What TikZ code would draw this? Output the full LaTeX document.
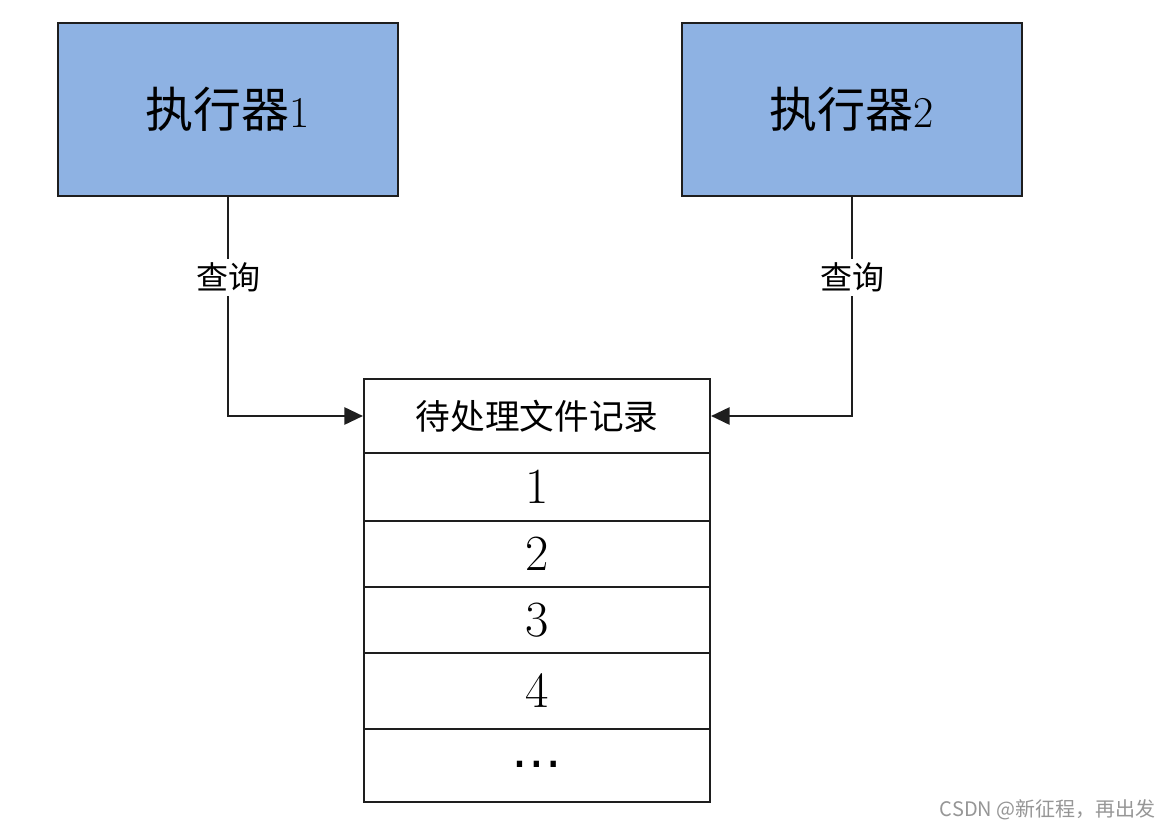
\documentclass[tikz,border=0pt]{standalone}
\usepackage{fontspec}
\newfontfamily\cjk{Noto Sans CJK SC}
\newfontfamily\dejavu{DejaVu Sans}
\usetikzlibrary{arrows.meta}
\definecolor{boxblue}{RGB}{142,178,227}
\definecolor{linegray}{RGB}{30,30,30}
\definecolor{wmgray}{RGB}{150,150,150}
\begin{document}
\begin{tikzpicture}[x=0.75pt,y=-0.75pt,
  exec/.style={draw=linegray, line width=1.6pt, fill=boxblue, minimum width=255pt, minimum height=129.75pt, inner sep=0pt},
  cell/.style={draw=linegray, line width=1.6pt, minimum width=259.5pt, inner sep=0pt, fill=white},
  link/.style={draw=linegray, line width=1.5pt, -{Triangle[length=14pt,width=13pt]}},
  lbl/.style={fill=white, inner sep=3pt, font=\cjk\fontsize{24}{28}\selectfont},
  digit/.style={font=\fontsize{38}{40}\selectfont}]
\useasboundingbox (0,0) rectangle (1171,831);
\fill[white] (0,0) rectangle (1171,831);

\node[exec] (ex1) at (228,109.5) {{\cjk\fontsize{36}{40}\selectfont 执行器}{\fontsize{33}{36}\selectfont 1}};
\node[exec] (ex2) at (852,109.5) {{\cjk\fontsize{36}{40}\selectfont 执行器}{\fontsize{33}{36}\selectfont 2}};

\node[cell, minimum height=55.5pt] (head) at (537,416) {\cjk\fontsize{26}{30}\selectfont 待处理文件记录};
\node[cell, minimum height=51pt, digit] (r1) at (537,487) {1};
\node[cell, minimum height=49.5pt, digit] (r2) at (537,554) {2};
\node[cell, minimum height=49.5pt, digit] (r3) at (537,620) {3};
\node[cell, minimum height=57pt, digit] (r4) at (537,691) {4};
\node[cell, minimum height=54.75pt] (r5) at (537,765.5) {\raisebox{1pt}{\dejavu\fontsize{38}{38}\selectfont …}};

\draw[link] (ex1.south) |- node[lbl, pos=0.184] {查询} (head.west);
\draw[link] (ex2.south) |- node[lbl, pos=0.184] {查询} (head.east);

\node[anchor=east, text=wmgray, inner sep=0pt, font=\cjk\fontsize{15}{18}\selectfont] (wm) at (1156,810) {CSDN @新征程，再出发};
\end{tikzpicture}
\end{document}
